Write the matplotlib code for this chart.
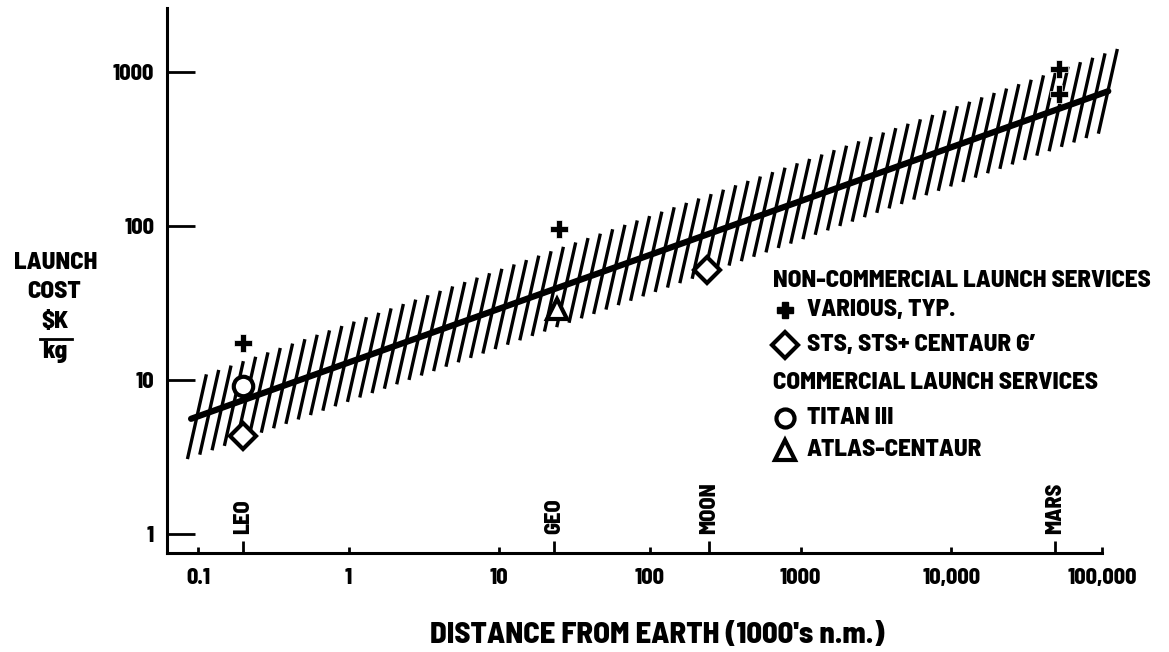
import numpy as np
import matplotlib
matplotlib.use("Agg")
import matplotlib.pyplot as plt
from matplotlib import font_manager
from matplotlib.ticker import FixedLocator, NullFormatter
from matplotlib.collections import LineCollection
from matplotlib.lines import Line2D

names = {f.name for f in font_manager.fontManager.ttflist}
fams = [f for f in ["Barlow Semi Condensed", "Barlow Condensed", "Roboto Condensed", "DejaVu Sans"] if f in names] or ["DejaVu Sans"]
plt.rcParams['font.family'] = fams
plt.rcParams['font.weight'] = 800
W = 800

# ---- data ----
x_ticks = [0.1, 1, 10, 100, 1000, 10000, 100000]
x_tick_labels = ["0.1", "1", "10", "100", "1000", "10,000", "100,000"]
y_ticks = [1, 10, 100, 1000]
y_tick_labels = ["1", "10", "100", "1000"]

site_names = ["LEO", "GEO", "MOON", "MARS"]
site_x = [0.2, 23, 245, 49000]

various_x = [0.2, 25, 52000, 52000]          # + VARIOUS, TYP.
various_y = [17.4, 95, 1050, 720]
sts_x = [0.2, 240]                           # diamond STS, STS+CENTAUR G'
sts_y = [4.3, 52]
titan_x = [0.2]                              # circle TITAN III
titan_y = [9.1]
atlas_x = [24]                               # triangle ATLAS-CENTAUR
atlas_y = [29]

trend_x = [0.09, 1.1e5]
trend_y = [5.6, 750]

# ---- figure ----
fig = plt.figure(figsize=(11.69, 6.52), dpi=100)
ax = fig.add_axes([0.1426, 0.1518, 0.8001, 0.8359])
ax.set_xscale('log')
ax.set_yscale('log')
ax.set_xlim(0.062, 1e5)
ax.set_ylim(0.753, 2600)

for s in ['top', 'right']:
    ax.spines[s].set_visible(False)
for s in ['left', 'bottom']:
    ax.spines[s].set_linewidth(2.2)

ax.xaxis.set_major_locator(FixedLocator(x_ticks))
ax.set_xticklabels(x_tick_labels, fontweight=W)
ax.xaxis.set_minor_locator(FixedLocator(site_x))
ax.xaxis.set_minor_formatter(NullFormatter())
ax.yaxis.set_major_locator(FixedLocator(y_ticks))
ax.set_yticklabels(y_tick_labels, fontweight=W)
ax.yaxis.set_minor_locator(FixedLocator([]))
ax.tick_params(axis='x', which='major', direction='in', length=4, width=2, pad=11, labelsize=16)
ax.tick_params(axis='x', which='minor', direction='in', length=9, width=2)
ax.tick_params(axis='y', which='major', direction='in', length=20, width=2, pad=9, labelsize=16)

# hatched band around trend line
lx0, lx1 = np.log10(trend_x)
ly0, ly1 = np.log10(trend_y)
slope = (ly1 - ly0) / (lx1 - lx0)
centers = np.arange(-1.007, 5.09, 0.0817)
segs = []
for c in centers:
    yc = ly0 + slope * (c - lx0)
    segs.append([(10 ** (c - 0.063), 10 ** (yc - 0.275)), (10 ** (c + 0.063), 10 ** (yc + 0.275))])
ax.add_collection(LineCollection(segs, colors='black', linewidths=2.4, clip_on=False, zorder=2))
ax.plot(trend_x, trend_y, color='black', lw=4.5, solid_capstyle='round', clip_on=False, zorder=3)

# data markers
ax.plot(various_x, various_y, 'P', ms=13, color='black', mec='white', mew=0.5, clip_on=False, zorder=5)
ax.plot(sts_x, sts_y, 'D', ms=13, mfc='white', mec='black', mew=3, zorder=5)
ax.plot(titan_x, titan_y, 'o', ms=14, mfc='white', mec='black', mew=3, zorder=5)
ax.plot(atlas_x, atlas_y, '^', ms=15, mfc='white', mec='black', mew=3, zorder=5)

# site labels
for nm, xv in zip(site_names, site_x):
    ax.text(xv, 1.0, nm, rotation=90, ha='center', va='bottom', fontsize=16, fontweight=W)

# axis labels
fig.text(657 / 1169, 1 - 636 / 652, "DISTANCE FROM EARTH (1000's n.m.)",
         ha='center', va='center', fontsize=22, fontweight=W)
fig.text(56 / 1169, 1 - 263 / 652, "LAUNCH", ha='center', va='center', fontsize=18, fontweight=W)
fig.text(54 / 1169, 1 - 292 / 652, "COST", ha='center', va='center', fontsize=18, fontweight=W)
fig.text(55 / 1169, 1 - 322 / 652, "$K", ha='center', va='center', fontsize=18, fontweight=W)
fig.add_artist(Line2D([40 / 1169, 72 / 1169], [1 - 339 / 652, 1 - 339 / 652], color='black', lw=2))
fig.text(55 / 1169, 1 - 352 / 652, "kg", ha='center', va='center', fontsize=18, fontweight=W)

# legend
T = ax.transAxes
hx, mx, tx = 0.648, 0.661, 0.6845
rows = [0.499, 0.446, 0.382, 0.312, 0.248, 0.189]
LF = 18
ax.text(hx, rows[0], "NON-COMMERCIAL LAUNCH SERVICES", transform=T, va='center', ha='left', fontsize=LF, fontweight=W)
ax.plot([mx], [rows[1]], 'P', ms=12, color='black', transform=T, clip_on=False)
ax.text(tx, rows[1], "VARIOUS, TYP.", transform=T, va='center', ha='left', fontsize=LF, fontweight=W)
ax.plot([mx], [rows[2]], 'D', ms=13, mfc='white', mec='black', mew=3, transform=T, clip_on=False)
ax.text(tx, rows[2], "STS, STS+ CENTAUR G\u2019", transform=T, va='center', ha='left', fontsize=LF, fontweight=W)
ax.text(hx, rows[3], "COMMERCIAL LAUNCH SERVICES", transform=T, va='center', ha='left', fontsize=LF, fontweight=W)
ax.plot([mx], [rows[4]], 'o', ms=13, mfc='white', mec='black', mew=3, transform=T, clip_on=False)
ax.text(tx, rows[4], "TITAN III", transform=T, va='center', ha='left', fontsize=LF, fontweight=W)
ax.plot([mx], [rows[5]], '^', ms=14, mfc='white', mec='black', mew=3, transform=T, clip_on=False)
ax.text(tx, rows[5], "ATLAS-CENTAUR", transform=T, va='center', ha='left', fontsize=LF, fontweight=W)

fig.savefig("out.png", dpi=100)
